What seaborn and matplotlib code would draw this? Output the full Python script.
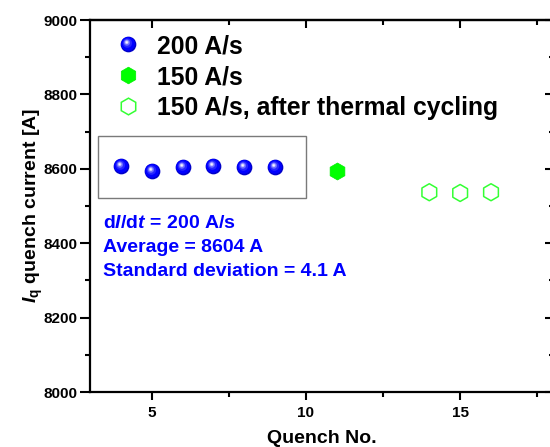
import numpy as np
import pandas as pd
import matplotlib
matplotlib.use("Agg")
import matplotlib.pyplot as plt
import seaborn as sns
from matplotlib.path import Path
from matplotlib.markers import MarkerStyle
from matplotlib.lines import Line2D
from matplotlib.patches import Rectangle
from matplotlib.legend_handler import HandlerTuple
from matplotlib.ticker import MultipleLocator

# ---------------- data ----------------
quench_200 = [4, 5, 6, 7, 8, 9]
current_200 = [8608, 8595, 8605, 8608, 8605, 8605]
quench_150 = [11]
current_150 = [8593]
quench_150_tc = [14, 15, 16]
current_150_tc = [8537, 8535, 8537]

legend_labels = ["200 A/s", "150 A/s", "150 A/s, after thermal cycling"]
note_lines = ["d$I$/d$t$ = 200 A/s", "Average = 8604 A", "Standard deviation = 4.1 A"]
x_ticks = [5, 10, 15]
y_ticks = [8000, 8200, 8400, 8600, 8800, 9000]
x_label = "Quench No."
y_label = r"$I_{\mathrm{q}}$ quench current [A]"

# ---------------- style ----------------
sns.set_theme(style="ticks")
plt.rcParams.update({
    "font.family": ["Liberation Sans", "DejaVu Sans"],
    "font.weight": "bold",
    "axes.labelweight": "bold",
    "mathtext.fontset": "custom",
    "mathtext.rm": "Liberation Sans:bold",
    "mathtext.it": "Liberation Sans:italic:bold",
    "mathtext.bf": "Liberation Sans:bold",
    "axes.linewidth": 1.6,
    "axes.edgecolor": "black",
    "text.color": "black",
    "axes.labelcolor": "black",
    "xtick.color": "black",
    "ytick.color": "black",
    "xtick.labelcolor": "black",
    "ytick.labelcolor": "black",
})

fig = plt.figure(figsize=(5.5, 4.47), dpi=100)
fig.patch.set_facecolor("white")
ax = fig.add_axes([90 / 550, 1 - 392 / 447, 462.7 / 550, 372 / 447])
ax.set_facecolor("white")

# sphere-like marker made of layered off-centre discs
def disc_marker(cx, cy, r):
    circ = Path.circle((cx, cy), r)
    box = Path([(0.5, 0.5), (-0.5, -0.5)], [Path.MOVETO, Path.MOVETO])
    return MarkerStyle(Path.make_compound_path(circ, box))

sphere_layers = [
    (disc_marker(0.0, 0.0, 0.5), "#0000c8"),
    (disc_marker(-0.03, 0.04, 0.44), "#0000ff"),
    (disc_marker(-0.07, 0.09, 0.30), "#2626ff"),
    (disc_marker(-0.10, 0.12, 0.20), "#6a6aff"),
    (disc_marker(-0.11, 0.14, 0.12), "#c0c0ff"),
    (disc_marker(-0.11, 0.14, 0.06), "#f8f8ff"),
]
sphere_s = 128
hex_s = 150

df200 = pd.DataFrame({"q": quench_200, "I": current_200})
df150 = pd.DataFrame({"q": quench_150, "I": current_150})
df150tc = pd.DataFrame({"q": quench_150_tc, "I": current_150_tc})

for m, c in sphere_layers:
    sns.scatterplot(data=df200, x="q", y="I", marker=m, s=sphere_s, color=c,
                    linewidth=0, ax=ax, legend=False, zorder=3)

sns.scatterplot(data=df150, x="q", y="I", marker="h", s=hex_s, color="#00ff00",
                edgecolor="#00ee00", linewidth=0.5, ax=ax, legend=False, zorder=3)
ax.scatter(df150tc["q"], df150tc["I"], marker="h", s=hex_s, facecolors="none",
           edgecolors="#33ff33", linewidths=1.1, zorder=3)

# box around the 200 A/s points
ax.add_patch(Rectangle((3.27, 8521), 10.0 - 3.27, 8688 - 8521, fill=False,
                       edgecolor="#7a7a7a", linewidth=1.0, zorder=2))

# notes
for txt, yb in zip(note_lines, [0.4409, 0.3763, 0.3118]):
    ax.text(0.028, yb, txt, transform=ax.transAxes, color="#0000ff",
            fontsize=14, fontweight="bold", ha="left", va="baseline")

# axes
ax.set_xlim(3, 18)
ax.set_ylim(8000, 9000)
ax.set_xticks(x_ticks)
ax.set_yticks(y_ticks)
ax.xaxis.set_minor_locator(MultipleLocator(2.5))
ax.yaxis.set_minor_locator(MultipleLocator(100))
ax.tick_params(which="both", direction="out", width=1.5, labelsize=11, top=False, right=False)
ax.tick_params(axis="x", which="major", length=6, pad=4)
ax.tick_params(axis="y", which="major", length=7, pad=2)
ax.tick_params(which="minor", length=3.5)
for lab in ax.get_xticklabels() + ax.get_yticklabels():
    lab.set_fontweight("bold")

for s in ["top", "right", "left", "bottom"]:
    ax.spines[s].set_visible(True)
    ax.spines[s].set_linewidth(1.6)
    ax.spines[s].set_color("black")

secx = ax.secondary_xaxis("top")
secx.set_xticks(x_ticks)
secx.xaxis.set_minor_locator(MultipleLocator(2.5))
secx.tick_params(which="both", direction="in", width=1.5, labeltop=False)
secx.tick_params(which="major", length=6)
secx.tick_params(which="minor", length=3.5)
secx.spines["top"].set_linewidth(1.6)

secy = ax.secondary_yaxis("right")
secy.set_yticks(y_ticks)
secy.yaxis.set_minor_locator(MultipleLocator(100))
secy.tick_params(which="both", direction="in", width=1.5, labelright=False)
secy.tick_params(which="major", length=6)
secy.tick_params(which="minor", length=3)

ax.set_xlabel(x_label, fontsize=14, fontweight="bold")
ax.set_ylabel(y_label, fontsize=14, fontweight="bold")
ax.xaxis.set_label_coords(0.5, -0.103)
ax.yaxis.set_label_coords(-0.097, 0.5)

# legend
sphere_handle = tuple(
    Line2D([], [], linestyle="none", marker=m, markersize=11.3,
           markerfacecolor=c, markeredgewidth=0)
    for m, c in sphere_layers
)
hex_fill = Line2D([], [], linestyle="none", marker="h", markersize=12,
                  markerfacecolor="#00ff00", markeredgecolor="#00ee00", markeredgewidth=0.5)
hex_open = Line2D([], [], linestyle="none", marker="h", markersize=12,
                  markerfacecolor="none", markeredgecolor="#33ff33", markeredgewidth=1.1)
leg = ax.legend([sphere_handle, hex_fill, hex_open], legend_labels,
                handler_map={tuple: HandlerTuple(ndivide=1, pad=0)},
                loc="upper left", bbox_to_anchor=(0.057, 0.962), frameon=False,
                prop={"weight": "bold", "size": 17.8},
                handlelength=0.95, handletextpad=0.71, labelspacing=0.28,
                borderpad=0, borderaxespad=0)
for t in leg.get_texts():
    t.set_color("black")

fig.savefig("out.png", dpi=100, facecolor="white")
